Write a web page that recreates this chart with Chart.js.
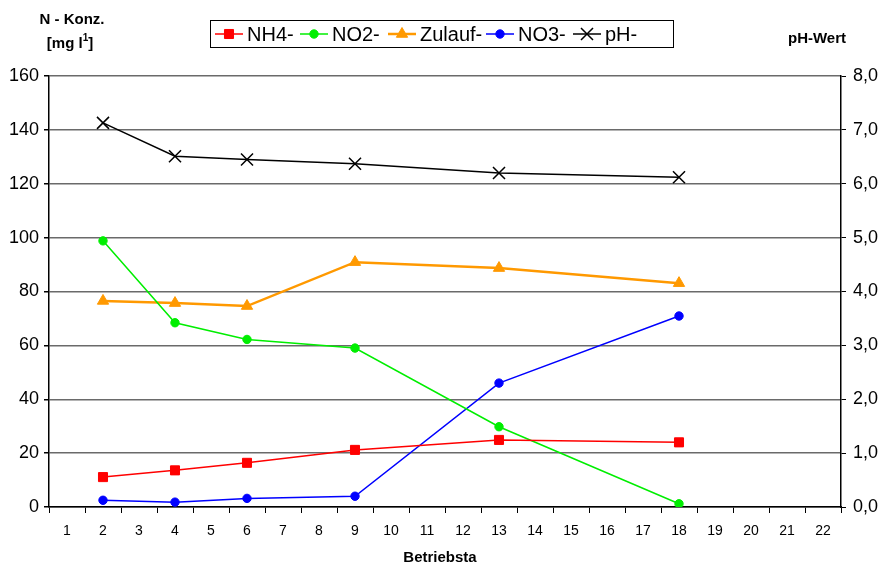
<!DOCTYPE html>
<html>
<head>
<meta charset="utf-8">
<script src="https://cdn.jsdelivr.net/npm/chart.js@4/dist/chart.umd.min.js"></script>
<style>
  html, body { margin: 0; padding: 0; background: #fff; }
  canvas { display: block; }
</style>
</head>
<body>
<canvas id="c" width="884" height="570"></canvas>
<script>
// Betriebstage (category axis 1..22) and measured days
const axisDays = ['1','2','3','4','5','6','7','8','9','10','11','12','13','14','15','16','17','18','19','20','21','22'];
const sampleDays = ['2','4','6','9','13','18'];

// N concentrations [mg/l]
const nh4    = [11.1, 13.6, 16.4, 21.2, 24.9, 24.0];
const no2    = [98.8, 68.4, 62.2, 59.0, 29.8, 1.2];
const zulauf = [76.5, 75.7, 74.6, 90.9, 88.7, 83.1];
const no3    = [2.5, 1.8, 3.2, 4.0, 46.0, 70.9];
// pH value (right axis)
const ph     = [7.13, 6.51, 6.45, 6.37, 6.20, 6.12];

const FONT = "'Liberation Sans', Arial, sans-serif";

function pts(vals) { return sampleDays.map((d, i) => ({ x: d, y: vals[i] })); }

const series = [
  { label: 'NH4-',    data: pts(nh4),    color: '#ff0000', style: 'rect',     r: 6.4, lw: 1.5, axis: 'y' },
  { label: 'NO2-',    data: pts(no2),    color: '#00ee00', style: 'circle',   r: 4.2, lw: 1.5, axis: 'y' },
  { label: 'Zulauf-', data: pts(zulauf), color: '#ff9900', style: 'triangle', r: 6.5, lw: 2.5, axis: 'y' },
  { label: 'NO3-',    data: pts(no3),    color: '#0000ff', style: 'circle',   r: 4.2, lw: 1.5, axis: 'y' },
  { label: 'pH-',     data: pts(ph),     color: '#000000', style: 'crossRot', r: 8.5, lw: 1.5, axis: 'y2' }
];

// left edge of each legend entry (line sample start)
const legendX = [215, 300, 388, 486, 573];

const annotations = {
  id: 'annotations',
  afterDraw(chart) {
    const ctx = chart.ctx;
    ctx.save();
    ctx.fillStyle = '#000';
    ctx.textBaseline = 'middle';
    ctx.textAlign = 'center';
    ctx.font = 'bold 15px ' + FONT;
    ctx.fillText('N - Konz.', 72, 20);
    // "[mg l-1]" with superscript
    const a = '[mg l', c = ']';
    const wa = ctx.measureText(a).width;
    ctx.font = 'bold 10px ' + FONT;
    const wb = ctx.measureText('1').width;
    ctx.font = 'bold 15px ' + FONT;
    const wc = ctx.measureText(c).width;
    let x0 = 70 - (wa + wb + wc) / 2;
    ctx.textAlign = 'left';
    ctx.fillText(a, x0, 44);
    ctx.font = 'bold 10px ' + FONT;
    ctx.fillText('1', x0 + wa, 38);
    ctx.font = 'bold 15px ' + FONT;
    ctx.fillText(c, x0 + wa + wb, 44);

    ctx.textAlign = 'center';
    ctx.fillText('pH-Wert', 817, 39);
    ctx.fillText('Betriebsta', 440, 558);

    // legend box
    ctx.font = '20px ' + FONT;
    const y = 34;
    series.forEach((s, i) => {
      const x = legendX[i];
      ctx.strokeStyle = s.color;
      ctx.lineWidth = s.lw;
      ctx.beginPath();
      ctx.moveTo(x, y); ctx.lineTo(x + 28, y);
      ctx.stroke();
      ctx.fillStyle = s.color;
      ctx.lineWidth = s.style === 'crossRot' ? 1.5 : 1;
      Chart.helpers.drawPoint(ctx, { pointStyle: s.style, radius: s.r, rotation: 0, borderWidth: ctx.lineWidth }, x + 14, y);
      ctx.fillStyle = '#000';
      ctx.textAlign = 'left';
      ctx.fillText(s.label, x + 32, y + 1);
    });
    ctx.strokeStyle = '#000';
    ctx.lineWidth = 1;
    ctx.strokeRect(210.5, 20.5, 463, 27);
    ctx.restore();
  }
};

new Chart(document.getElementById('c'), {
  type: 'line',
  data: {
    labels: axisDays,
    datasets: series.map(s => ({
      label: s.label,
      data: s.data,
      yAxisID: s.axis,
      borderColor: s.color,
      backgroundColor: s.color,
      borderWidth: s.lw,
      pointStyle: s.style,
      pointRadius: s.r,
      pointBorderWidth: s.style === 'crossRot' ? 1.5 : 1,
      pointBorderColor: s.color,
      pointBackgroundColor: s.color,
      tension: 0,
      fill: false
    }))
  },
  options: {
    responsive: false,
    animation: false,
    layout: { padding: { top: 76, left: 0, right: 0, bottom: 0 } },
    plugins: { legend: { display: false }, tooltip: { enabled: false } },
    scales: {
      x: {
        type: 'category',
        offset: true,
        afterFit(s) { s.height = 63; },
        grid: { drawOnChartArea: false, offset: true, tickLength: 6, tickColor: '#000', lineWidth: 1 },
        border: { color: '#000', width: 1.5 },
        ticks: { color: '#000', font: { family: FONT, size: 14 }, padding: 10, maxRotation: 0, autoSkip: false }
      },
      y: {
        position: 'left',
        min: 0, max: 160,
        afterFit(s) { s.width = 49; },
        grid: { color: '#6a6a6a', lineWidth: 1.5, tickLength: 5, tickColor: '#000' },
        border: { color: '#000', width: 1.5 },
        ticks: { stepSize: 20, color: '#000', font: { family: FONT, size: 18 }, padding: 5 }
      },
      y2: {
        position: 'right',
        min: 0, max: 8,
        afterFit(s) { s.width = 43; },
        grid: { drawOnChartArea: false, tickLength: 5, tickColor: '#000' },
        border: { color: '#000', width: 1.5 },
        ticks: {
          stepSize: 1, color: '#000', font: { family: FONT, size: 18 }, padding: 7,
          callback: v => v.toFixed(1).replace('.', ',')
        }
      }
    }
  },
  plugins: [annotations]
});
</script>
</body>
</html>
